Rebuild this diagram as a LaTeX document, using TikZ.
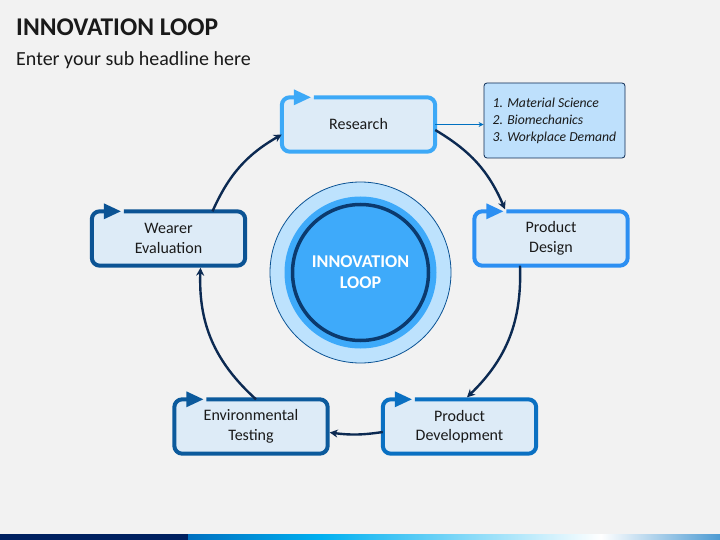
\documentclass[tikz,border=0pt]{standalone}
\usepackage{fontspec}
\setmainfont{Carlito}
\usetikzlibrary{arrows.meta,calc}
\definecolor{bg}{HTML}{F2F2F2}
\definecolor{boxfill}{HTML}{DDEBF7}
\definecolor{cRes}{HTML}{3DA9F7}
\definecolor{cDes}{HTML}{2C8FF2}
\definecolor{cDev}{HTML}{0A70C2}
\definecolor{cEnv}{HTML}{0C5A9C}
\definecolor{cWea}{HTML}{0B5394}
\definecolor{navy}{HTML}{0C2A52}
\definecolor{txt}{HTML}{1A1A1A}
\definecolor{infofill}{HTML}{BEE0FC}
\definecolor{outerc}{HTML}{BDE2FD}
\definecolor{midc}{HTML}{3EAAFA}
\definecolor{ringc}{HTML}{0B3A6E}
\definecolor{bardark}{HTML}{002060}
\definecolor{barblue}{HTML}{0070C0}
\definecolor{barcyan}{HTML}{00B0F0}
\newcommand\loopborder[2]{%
  \draw[#2,line width=4pt,rounded corners=8pt] ($(#1.north west)+(32,0)$) -- (#1.north east) -- (#1.south east) -- (#1.south west) -- (#1.north west) -- ($(#1.north west)+(14,0)$);
  \fill[#2] ($(#1.north west)+(12,-8)$) -- ($(#1.north west)+(29,0)$) -- ($(#1.north west)+(12,8)$) -- cycle;}
\begin{document}
\begin{tikzpicture}[x=1pt,y=-1pt,
  loopbox/.style={rectangle,rounded corners=8pt,fill=boxfill,minimum width=153pt,minimum height=54pt,inner sep=0pt,align=center,font=\fontsize{16}{19.5}\selectfont,text=txt},
  conn/.style={draw=navy,line width=2.4pt,-{Stealth[length=8pt,width=8pt]}},
  infoarrow/.style={draw=barblue,line width=1.5pt,-{Stealth[length=5pt,width=5pt]}},
]
\useasboundingbox (0,0) rectangle (720,540);
\fill[bg] (0,0) rectangle (720,540);
% title
\node[anchor=base west,inner sep=0pt,font=\fontsize{25.5}{30}\selectfont\bfseries,text=txt] (title) at (16,36) {INNOVATION LOOP};
\node[anchor=base west,inner sep=0pt,font=\fontsize{20}{24}\selectfont,text=txt] (sub) at (16,66) {Enter your sub headline here};
% centre circles
\node[circle,minimum size=181pt,inner sep=0pt,fill=outerc,draw=cWea,line width=0.8pt] (outer) at (360.5,272.5) {};
\node[circle,minimum size=152pt,inner sep=0pt,fill=midc] (mid) at (360.5,272.5) {};
\node[circle,minimum size=136pt,inner sep=0pt,draw=ringc,line width=3.5pt,align=center,text=white,font=\fontsize{18}{21}\selectfont\bfseries] (core) at (360.5,272.5) {INNOVATION\\LOOP};
% boxes
\node[loopbox] (res) at (358.5,124.5) {Research};
\node[loopbox] (des) at (551,238.5) {Product\\Design};
\node[loopbox] (dev) at (459.5,426.5) {Product\\Development};
\node[loopbox] (env) at (251,426.5) {Environmental\\Testing};
\node[loopbox] (wea) at (168.5,238.5) {Wearer\\Evaluation};
\loopborder{res}{cRes}
\loopborder{des}{cDes}
\loopborder{dev}{cDev}
\loopborder{env}{cEnv}
\loopborder{wea}{cWea}
% info box
\node[rectangle,rounded corners=3pt,fill=infofill,draw=navy,line width=0.8pt,minimum width=141pt,minimum height=75pt,inner sep=0pt,align=left,text=txt,font=\fontsize{13.7}{17}\selectfont\itshape] (info) at (554.5,120.5) {1. Material Science\\2. Biomechanics\\3. Workplace Demand};
\draw[infoarrow] (res.east) -- (res.east -| info.west);
% connectors
\draw[conn] ([xshift=44pt]wea.north) to[bend left=18] ([yshift=-10pt]res.west);
\draw[conn] ([yshift=-5.5pt]res.east) to[bend left=18] ([xshift=-46pt,yshift=2pt]des.north);
\draw[conn] ([xshift=-31pt]des.south) to[bend left=24] ([xshift=7.5pt,yshift=2pt]dev.north);
\draw[conn] ([yshift=-5.5pt]dev.west) to[bend left=8] ([xshift=2pt,yshift=-6pt]env.east);
\draw[conn] ([xshift=5pt]env.north) to[bend left=25] ([xshift=32pt,yshift=-2pt]wea.south);
% bottom bar
\fill[bardark] (0,534) rectangle (188,540);
\shade[left color=barblue,right color=barcyan] (188,534) rectangle (321,540);
\shade[left color=barcyan,right color=white] (321,534) rectangle (601,540);
\shade[left color=white,right color=barblue!70] (601,534) rectangle (720,540);
\end{tikzpicture}
\end{document}
